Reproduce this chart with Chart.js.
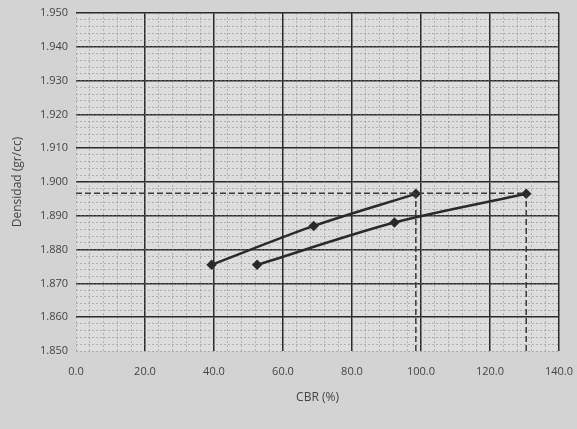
<!DOCTYPE html>
<html>
<head>
<meta charset="utf-8">
<script src="https://cdn.jsdelivr.net/npm/chart.js@4.4.1/dist/chart.umd.min.js"></script>
<style>
  html, body { margin: 0; padding: 0; background: #d3d3d3; }
  #wrap { width: 577px; height: 429px; position: relative; }
</style>
</head>
<body>
<div id="wrap"><canvas id="c" width="577" height="429"></canvas></div>
<script>
// ---- data ----
const cbrSeries1 = [39.3, 68.9, 98.5];
const densSeries1 = [1.8755, 1.8870, 1.8965];
const cbrSeries2 = [52.5, 92.3, 130.5];
const densSeries2 = [1.8755, 1.8880, 1.8965];
const refDensity = 1.8967;          // horizontal dashed reference
const refCbr = [98.5, 130.5];       // vertical dashed references
const xTicks = [0, 20, 40, 60, 80, 100, 120, 140];
const yTicks = [1.85, 1.86, 1.87, 1.88, 1.89, 1.90, 1.91, 1.92, 1.93, 1.94, 1.95];

const pts = (xs, ys) => xs.map((x, i) => ({ x: x, y: ys[i] }));

const bgPlugin = {
  id: 'bg',
  beforeDraw(chart) {
    const { ctx, chartArea: a } = chart;
    ctx.save();
    ctx.fillStyle = '#d3d3d3';
    ctx.fillRect(0, 0, chart.width, chart.height);
    ctx.fillStyle = '#dddddd';
    ctx.fillRect(a.left, a.top, a.right - a.left, a.bottom - a.top);
    ctx.restore();
  }
};

const textColor = '#444';
const font = { family: 'Open Sans', size: 11 };
const majorGrid = '#2b2b2b';

new Chart(document.getElementById('c'), {
  type: 'scatter',
  data: {
    datasets: [
      {
        label: 'ref-h',
        data: [{ x: 0, y: refDensity }, { x: refCbr[1], y: refDensity }],
        showLine: true, borderColor: '#3a3a3a', borderWidth: 1.5,
        borderDash: [6, 3], pointRadius: 0
      },
      {
        label: 'ref-v1',
        data: [{ x: refCbr[0], y: 1.85 }, { x: refCbr[0], y: refDensity }],
        showLine: true, borderColor: '#3a3a3a', borderWidth: 1.5,
        borderDash: [6, 3], pointRadius: 0
      },
      {
        label: 'ref-v2',
        data: [{ x: refCbr[1], y: 1.85 }, { x: refCbr[1], y: refDensity }],
        showLine: true, borderColor: '#3a3a3a', borderWidth: 1.5,
        borderDash: [6, 3], pointRadius: 0
      },
      {
        label: 'Serie 1',
        data: pts(cbrSeries1, densSeries1),
        showLine: true, borderColor: '#2a2a2a', borderWidth: 2.5,
        tension: 0.3, pointStyle: 'rectRot', pointRadius: 3.5,
        pointBackgroundColor: '#2a2a2a', pointBorderColor: '#2a2a2a'
      },
      {
        label: 'Serie 2',
        data: pts(cbrSeries2, densSeries2),
        showLine: true, borderColor: '#2a2a2a', borderWidth: 2.5,
        tension: 0.3, pointStyle: 'rectRot', pointRadius: 3.5,
        pointBackgroundColor: '#2a2a2a', pointBorderColor: '#2a2a2a'
      }
    ]
  },
  options: {
    responsive: false,
    animation: false,
    layout: { padding: { left: 0, top: 13, right: 18, bottom: 0 } },
    plugins: { legend: { display: false }, tooltip: { enabled: false } },
    scales: {
      x: {
        type: 'linear', position: 'bottom', min: 0, max: 140,
        afterBuildTicks: (s) => { s.ticks = xTicks.map(v => ({ value: v })); },
        ticks: { color: textColor, font: font, padding: 14,
                 callback: (v) => Number(v).toFixed(1), maxRotation: 0 },
        grid: { color: (c) => (c.tick && c.tick.value === 0) ? 'rgba(0,0,0,0)' : majorGrid,
                lineWidth: 1.5, drawTicks: false },
        border: { display: false },
        title: { display: true, text: 'CBR (%)', color: textColor,
                 font: { family: 'Open Sans', size: 12 }, padding: { top: 0, bottom: 24 } },
        afterFit: (s) => { s.height = 429 - 351; s.paddingRight = 0; s.paddingLeft = 0; }
      },
      y: {
        type: 'linear', position: 'left', min: 1.85, max: 1.95,
        afterBuildTicks: (s) => { s.ticks = yTicks.map(v => ({ value: v })); },
        ticks: { color: textColor, font: font, padding: 8,
                 callback: (v) => Number(v).toFixed(3) },
        grid: { color: (c) => (c.tick && Math.abs(c.tick.value - 1.85) < 1e-6) ? 'rgba(0,0,0,0)' : majorGrid,
                lineWidth: 1.5, drawTicks: false },
        border: { display: false },
        title: { display: true, text: 'Densidad (gr/cc)', color: textColor,
                 font: { family: 'Open Sans', size: 12 }, padding: { top: 10, bottom: 0 } },
        afterFit: (s) => { s.width = 76; s.paddingTop = 0; s.paddingBottom = 0; }
      },
      xMinor: {
        type: 'linear', position: 'bottom', min: 0, max: 140, z: -1,
        ticks: { display: false, stepSize: 4 },
        grid: { color: 'rgba(120,120,120,0.45)', lineWidth: 1, drawTicks: false },
        border: { display: false, dash: [2, 2] },
        afterFit: (s) => { s.height = 0; s.paddingRight = 0; s.paddingLeft = 0; }
      },
      yMinor: {
        type: 'linear', position: 'left', min: 1.85, max: 1.95, z: -1,
        ticks: { display: false, stepSize: 0.002 },
        grid: { color: 'rgba(120,120,120,0.45)', lineWidth: 1, drawTicks: false },
        border: { display: false, dash: [2, 2] },
        afterFit: (s) => { s.width = 0; s.paddingTop = 0; s.paddingBottom = 0; }
      }
    }
  },
  plugins: [bgPlugin]
});
</script>
</body>
</html>
